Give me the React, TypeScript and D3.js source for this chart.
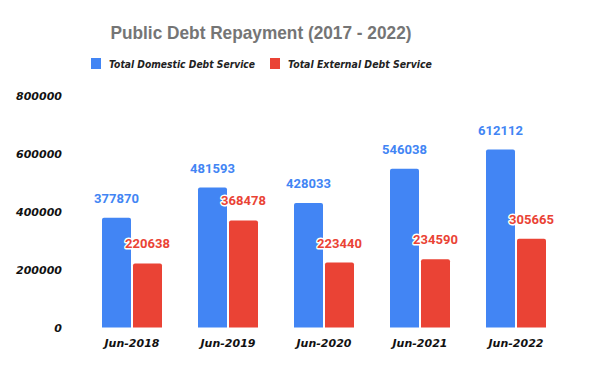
import React, { useRef, useEffect } from 'react';
import * as d3 from 'd3';

const categories = ['Jun-2018', 'Jun-2019', 'Jun-2020', 'Jun-2021', 'Jun-2022'];
const domestic = [377870, 481593, 428033, 546038, 612112];
const external = [220638, 368478, 223440, 234590, 305665];
const seriesNames = ['Total Domestic Debt Service', 'Total External Debt Service'];
const colors = ['#4285F4', '#EA4335'];
const yTicks = [0, 200000, 400000, 600000, 800000];

const comic = '"Comic Sans MS", "DejaVu Sans", sans-serif';

const App = () => {
  const svgRef = useRef(null);

  useEffect(() => {
    const svg = d3.select(svgRef.current);
    svg.selectAll('*').remove();

    const width = 600;
    const height = 371;

    svg.append('rect').attr('width', width).attr('height', height).attr('fill', '#fff');

    // title
    svg.append('text')
      .attr('x', 261)
      .attr('y', 39)
      .attr('text-anchor', 'middle')
      .attr('font-family', '"Liberation Sans", Arial, sans-serif')
      .attr('font-weight', 'bold')
      .attr('font-size', 19)
      .attr('fill', '#757575')
      .attr('textLength', 301)
      .attr('lengthAdjust', 'spacingAndGlyphs')
      .text('Public Debt Repayment (2017 - 2022)');

    // legend
    const legendX = [91, 270];
    const legendW = [146, 144];
    seriesNames.forEach((name, i) => {
      svg.append('rect')
        .attr('x', legendX[i]).attr('y', 58)
        .attr('width', 10).attr('height', 11)
        .attr('fill', colors[i]);
      svg.append('text')
        .attr('x', legendX[i] + 18).attr('y', 68)
        .attr('font-family', comic)
        .attr('font-style', 'italic')
        .attr('font-weight', 600)
        .attr('font-size', 11)
        .attr('fill', '#222')
        .attr('textLength', legendW[i])
        .attr('lengthAdjust', 'spacingAndGlyphs')
        .text(name);
    });

    const x = d3.scaleBand().domain(categories).range([84, 564]);
    const y = d3.scaleLinear().domain([0, 800000]).range([327.5, 95]);
    const barW = 29;
    const gap = 2;

    // y axis labels
    svg.append('g')
      .selectAll('text')
      .data(yTicks)
      .join('text')
      .attr('x', 62)
      .attr('y', d => y(d) + 4.5)
      .attr('text-anchor', 'end')
      .attr('font-family', comic)
      .attr('font-style', 'italic')
      .attr('font-weight', 'bold')
      .attr('font-size', 11)
      .attr('fill', '#111')
      .text(d => d);

    const barPath = (x0, y0, w, y1) => {
      const r = 2;
      return `M${x0},${y1}V${y0 + r}Q${x0},${y0} ${x0 + r},${y0}H${x0 + w - r}Q${x0 + w},${y0} ${x0 + w},${y0 + r}V${y1}Z`;
    };

    [domestic, external].forEach((vals, s) => {
      const g = svg.append('g');
      g.selectAll('path')
        .data(vals)
        .join('path')
        .attr('d', (d, i) => {
          const cx = x(categories[i]) + x.bandwidth() / 2;
          const x0 = s === 0 ? cx - gap / 2 - barW : cx + gap / 2;
          return barPath(x0, y(d), barW, y(0));
        })
        .attr('fill', colors[s]);

      g.selectAll('text')
        .data(vals)
        .join('text')
        .attr('x', (d, i) => {
          const cx = x(categories[i]) + x.bandwidth() / 2;
          return s === 0 ? cx - gap / 2 - barW / 2 : cx + gap / 2 + barW / 2;
        })
        .attr('y', d => y(d) - 15)
        .attr('text-anchor', 'middle')
        .attr('font-family', 'Roboto, sans-serif')
        .attr('font-weight', 'bold')
        .attr('font-size', 13)
        .attr('fill', colors[s])
        .attr('stroke', '#fff')
        .attr('stroke-width', s === 1 ? 3 : 0)
        .attr('paint-order', 'stroke')
        .attr('stroke-linejoin', 'round')
        .text(d => d);
    });

    // x labels
    svg.append('g')
      .selectAll('text')
      .data(categories)
      .join('text')
      .attr('x', d => x(d) + x.bandwidth() / 2)
      .attr('y', 347)
      .attr('text-anchor', 'middle')
      .attr('font-family', comic)
      .attr('font-style', 'italic')
      .attr('font-weight', 'bold')
      .attr('font-size', 11)
      .attr('fill', '#111')
      .text(d => d);
  }, []);

  return (
    <svg ref={svgRef} width={600} height={371} style={{ display: 'block', position: 'absolute', left: 0, top: 0 }} />
  );
};

export default App;
